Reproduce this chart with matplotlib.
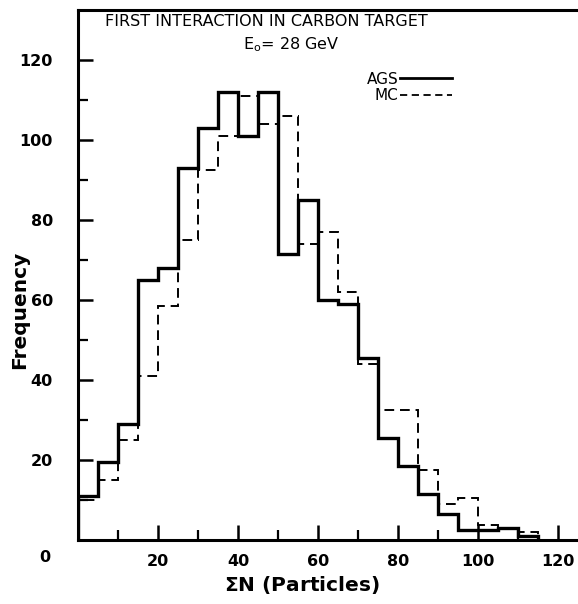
import numpy as np
import matplotlib
matplotlib.use("Agg")
import matplotlib.pyplot as plt
from matplotlib.lines import Line2D

# --- data (bin width 5, from 0 to 115) ---
bin_edges = np.arange(0, 120, 5)
ags = [11, 19.5, 29, 65, 68, 93, 103, 112, 101, 112, 71.5, 85,
       60, 59, 45.5, 25.5, 18.5, 11.5, 6.5, 2.5, 2.5, 3, 1]
mc = [10, 15, 25, 41, 58.5, 75, 92.5, 101, 111, 104, 106, 74,
      77, 62, 44, 32.5, 32.5, 17.5, 9, 10.5, 3.75, 3, 2]
x_ticks = [20, 40, 60, 80, 100, 120]
y_ticks = [20, 40, 60, 80, 100, 120]

plt.rcParams['font.family'] = ['DejaVu Sans']

W, H = 578, 604
fig = plt.figure(figsize=(W / 100, H / 100), dpi=100)
# axes: left spine at x=78 px, bottom at y=540 px, top at y=10 px, right runs off the canvas
ax = fig.add_axes([78 / W, (H - 540) / H, 504 / W, 530 / H])

ax.stairs(ags, bin_edges, color='black', lw=2.4, baseline=0)
ax.stairs(mc, bin_edges, color='black', lw=1.4, linestyle=(0, (5, 3)), baseline=0)

ax.set_xlim(0, 126)
ax.set_ylim(0, 132.5)

ax.xaxis.set_major_locator(plt.FixedLocator(x_ticks))
ax.yaxis.set_major_locator(plt.FixedLocator(y_ticks))
ax.xaxis.set_minor_locator(plt.FixedLocator(np.arange(10, 120, 20)))
ax.yaxis.set_minor_locator(plt.FixedLocator(np.arange(10, 120, 20)))
ax.tick_params(which='major', direction='in', length=11, width=1.8,
               labelsize=11.5, pad=10)
ax.tick_params(which='minor', direction='in', length=7, width=1.6)
ax.tick_params(axis='y', which='major', pad=18)
for lab in ax.get_xticklabels() + ax.get_yticklabels():
    lab.set_fontweight('bold')

for s in ax.spines.values():
    s.set_linewidth(2.2)

fig.text(45 / W, 1 - 557 / H, '0', fontsize=11.5, fontweight='bold',
         ha='center', va='center')

ax.set_xlabel(r'$\mathbf{\Sigma}$N (Particles)', fontsize=14.5, fontweight='bold')
ax.set_ylabel('Frequency', fontsize=14.5, fontweight='bold')
ax.xaxis.set_label_coords((302 - 78) / 504, -(574 - 540) / 530)
ax.yaxis.set_label_coords((29 - 78) / 504, (540 - 310) / 530)

fig.text(105 / W, 1 - 22 / H, 'FIRST INTERACTION IN CARBON TARGET',
         fontsize=11.5, fontweight='medium', ha='left', va='center')
fig.text(243 / W, 1 - 45 / H, r'E$_\mathregular{o}$= 28 GeV',
         fontsize=11.5, fontweight='medium', ha='left', va='center')

handles = [Line2D([], [], color='black', lw=2.0),
           Line2D([], [], color='black', lw=1.3, linestyle=(0, (4, 2.5)))]
fig.legend(handles, ['AGS', 'MC'], loc='upper left',
           bbox_to_anchor=(359 / W, 1 - 64 / H), frameon=False,
           markerfirst=False, handlelength=3.4, handletextpad=0.1,
           labelspacing=0.1, fontsize=11, borderpad=0)

fig.savefig('out.png', dpi=100)
